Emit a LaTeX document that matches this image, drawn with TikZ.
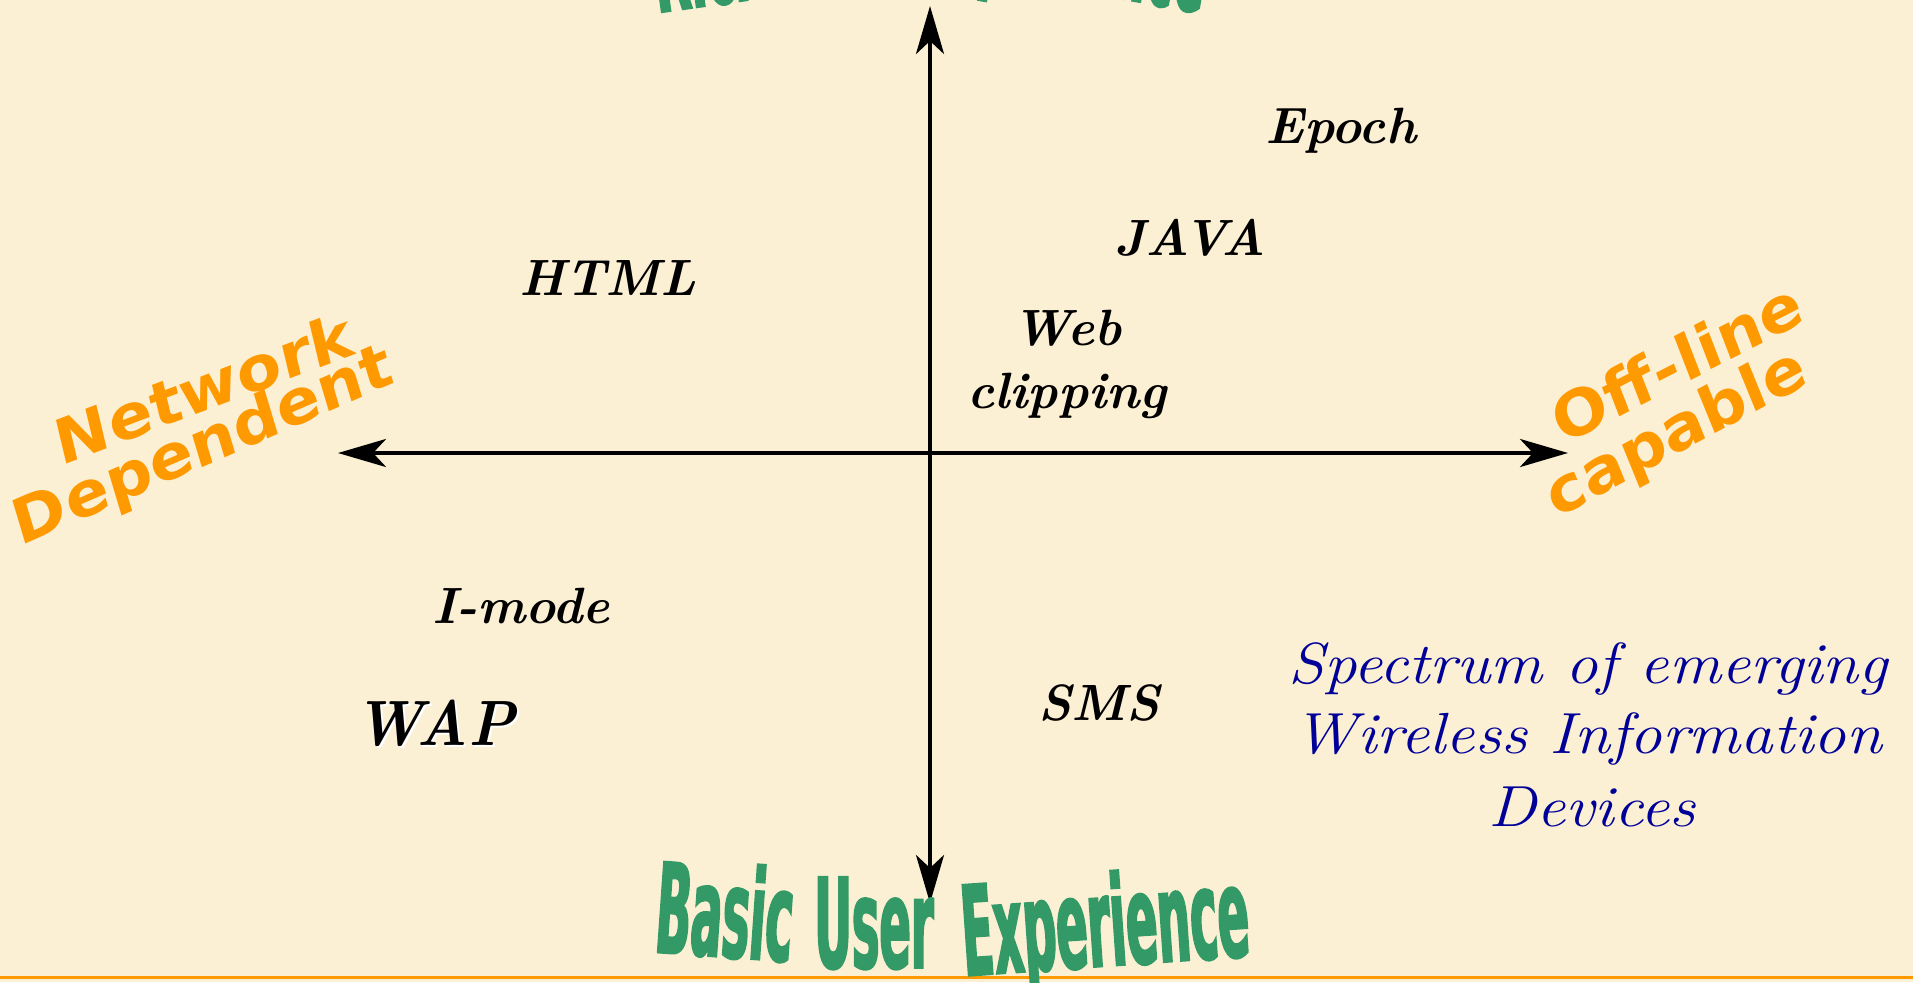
\documentclass[tikz,border=0pt]{standalone}
\usepackage{fontspec}
\usetikzlibrary{arrows.meta}
\newfontfamily\orangefont{DejaVu Sans}
\newfontfamily\wordart{DejaVu Sans Bold}[FakeStretch=0.37,FakeBold=1.5]
\definecolor{bgcream}{RGB}{252,240,212}
\definecolor{wagreen}{RGB}{51,153,102}
\definecolor{waorange}{RGB}{255,153,0}
\definecolor{navyblue}{RGB}{0,0,153}
\tikzset{
  lab/.style={font=\bfseries\itshape\fontsize{51}{60}\selectfont, inner sep=0pt, anchor=base},
  biglab/.style={font=\bfseries\itshape\fontsize{64}{70}\selectfont, inner sep=0pt, anchor=base, xscale=0.93},
  speclab/.style={font=\itshape\fontsize{58}{70}\selectfont, text=navyblue, inner sep=0pt, anchor=base, xscale=1.12},
  orangelab/.style={font=\orangefont\bfseries\itshape\fontsize{60}{66}\selectfont, text=waorange, inner sep=0pt, xscale=1.12},
  greenlab/.style={font=\wordart\fontsize{125}{125}\selectfont, text=wagreen, inner sep=0pt, anchor=base},
  axisline/.style={line width=4pt, >={Stealth[length=48pt,width=28pt,inset=13pt]}, <->},
}
\begin{document}
\begin{tikzpicture}[x=1pt,y=-1pt]
\useasboundingbox (0,0) rectangle (1913,982);
\clip (0,0) rectangle (1913,982);
\fill[bgcream] (0,0) rectangle (1913,982);
\draw[waorange, line width=3pt] (0,977) -- (1913,977);

% axes
\coordinate (top) at (930,6);
\coordinate (bottom) at (930,903);
\coordinate (left) at (338,453);
\coordinate (right) at (1568,453);
\draw[axisline] (left) -- (right);
\draw[axisline] (top) -- (bottom);

% green word-art titles (top one is mostly cut off by the frame)
\node[greenlab, rotate=8] (rich) at (713,5) {Rich};
\node[greenlab, rotate=2] (userT) at (845,-22) {User};
\node[greenlab, rotate=-10] (experT) at (1060,-12) {Experience};
\node[greenlab, rotate=-4] (basic) at (722,957) {Basic};
\node[greenlab] (userB) at (874,968) {User};
\node[greenlab, rotate=4] (experB) at (1108,966) {Experience};

% orange axis labels
\node[orangelab, rotate=23] (network) at (203,388) {Network};
\node[orangelab, rotate=26] (dependent) at (204,448) {Dependent};
\node[orangelab, rotate=30] (offline) at (1676,362) {Off-line};
\node[orangelab, rotate=31] (capable) at (1677,435) {capable};

% technologies
\node[lab] (epoch) at (1341,143) {Epoch};
\node[lab] (java) at (1190,255) {JAVA};
\node[lab] (html) at (608,295) {HTML};
\node[lab] (web) at (1067,345) {Web};
\node[lab] (clipping) at (1067,408) {clipping};
\node[lab] (imode) at (521,623) {I-mode};
\node[biglab, text=white] (wapshadow) at (437,747) {WAP};
\node[biglab] (wap) at (435,745) {WAP};
\node[lab] (sms) at (1099,720) {SMS};

% caption
\node[speclab] (spec1) at (1588,683) {Spectrum of emerging};
\node[speclab] (spec2) at (1588,753) {Wireless Information};
\node[speclab] (spec3) at (1592,826) {Devices};
\end{tikzpicture}
\end{document}
